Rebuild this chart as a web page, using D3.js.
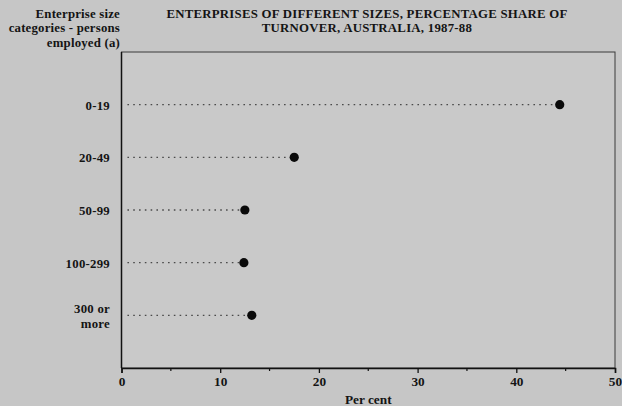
<!DOCTYPE html>
<html><head><meta charset="utf-8">
<script src="https://cdn.jsdelivr.net/npm/d3@7"></script>
<style>
html,body{margin:0;padding:0;background:#c6c6c6;}
svg{display:block;}
text{font-family:"Liberation Serif","Times New Roman",serif;font-weight:bold;fill:#141414;}
</style></head>
<body>
<svg id="c" width="622" height="406"></svg>
<script>
const categories = ["0-19", "20-49", "50-99", "100-299", "300 or more"];
const categoryLines = [["0-19"], ["20-49"], ["50-99"], ["100-299"], ["300 or", "more"]];
const values = [44.4, 17.5, 12.5, 12.4, 13.2];
const xTicks = [0, 10, 20, 30, 40, 50];
const xMinorTicks = [5, 15, 25, 35, 45];
const titleLines = ["ENTERPRISES OF DIFFERENT SIZES, PERCENTAGE SHARE OF", "TURNOVER, AUSTRALIA, 1987-88"];
const yTitleLines = ["Enterprise size", "categories - persons", "employed (a)"];
const xTitle = "Per cent";

const FS = 13.3, HS = 12.8, LH = 14.3;
const svg = d3.select("#c");
const L = 121.5, R = 615, T = 52, B = 368;
const x = d3.scaleLinear().domain([0, 50]).range([L, R]);
const y = d3.scalePoint().domain(categories).range([T, B]).padding(1);

// frame
svg.append("rect").attr("x", L).attr("y", T).attr("width", R - L).attr("height", B - T)
  .attr("fill", "#c9c9c9").attr("stroke", "#3a3a3a").attr("stroke-width", 1);
svg.append("line").attr("x1", L).attr("x2", L).attr("y1", T).attr("y2", B)
  .attr("stroke", "#111").attr("stroke-width", 1.5);

// x axis
const ax = svg.append("g").attr("transform", `translate(0,${B})`);
ax.call(d3.axisBottom(x).tickValues(xTicks).tickSize(5).tickPadding(4).tickFormat(d3.format("d")));
ax.select(".domain").attr("stroke", "#111").attr("stroke-width", 1.5);
ax.selectAll(".tick line").attr("stroke", "#111").attr("stroke-width", 1.3);
ax.selectAll(".tick text").attr("font-family", "Liberation Serif").attr("font-weight", "bold")
  .attr("font-size", FS).attr("fill", "#141414");
ax.selectAll(".minor").data(xMinorTicks).enter().append("line")
  .attr("x1", d => x(d)).attr("x2", d => x(d)).attr("y1", 0).attr("y2", 3)
  .attr("stroke", "#111").attr("stroke-width", 1.2);

svg.append("text").attr("x", (L + R) / 2).attr("y", 404).attr("text-anchor", "middle")
  .attr("font-size", FS).text(xTitle);

// dotted lines
svg.selectAll(".lead").data(categories).enter().append("line")
  .attr("x1", x(0.6)).attr("x2", (d, i) => x(values[i]))
  .attr("y1", d => y(d)).attr("y2", d => y(d))
  .attr("stroke", "#4a4a4a").attr("stroke-width", 1.4).attr("stroke-dasharray", "1.6,4.2");

// dots
svg.selectAll(".dot").data(categories).enter().append("circle")
  .attr("cx", (d, i) => x(values[i])).attr("cy", d => y(d)).attr("r", 4.6).attr("fill", "#0a0a0a");

// category labels (one text per line)
categories.forEach((c, i) => {
  const lines = categoryLines[i];
  lines.forEach((ln, j) => svg.append("text").attr("text-anchor", "end").attr("font-size", HS)
    .attr("letter-spacing", 0.25)
    .attr("x", 110).attr("y", y(c) + 5 - (lines.length - 1) * 7 + j * LH).text(ln));
});

// y title
yTitleLines.forEach((ln, j) => svg.append("text").attr("text-anchor", "end").attr("font-size", HS)
  .attr("letter-spacing", 0.2).attr("x", 120).attr("y", 18 + j * LH).text(ln));

// title
titleLines.forEach((ln, j) => svg.append("text").attr("text-anchor", "middle").attr("font-size", HS)
  .attr("letter-spacing", 0.25).attr("x", 367).attr("y", 18 + j * LH).text(ln));
</script>
</body></html>
